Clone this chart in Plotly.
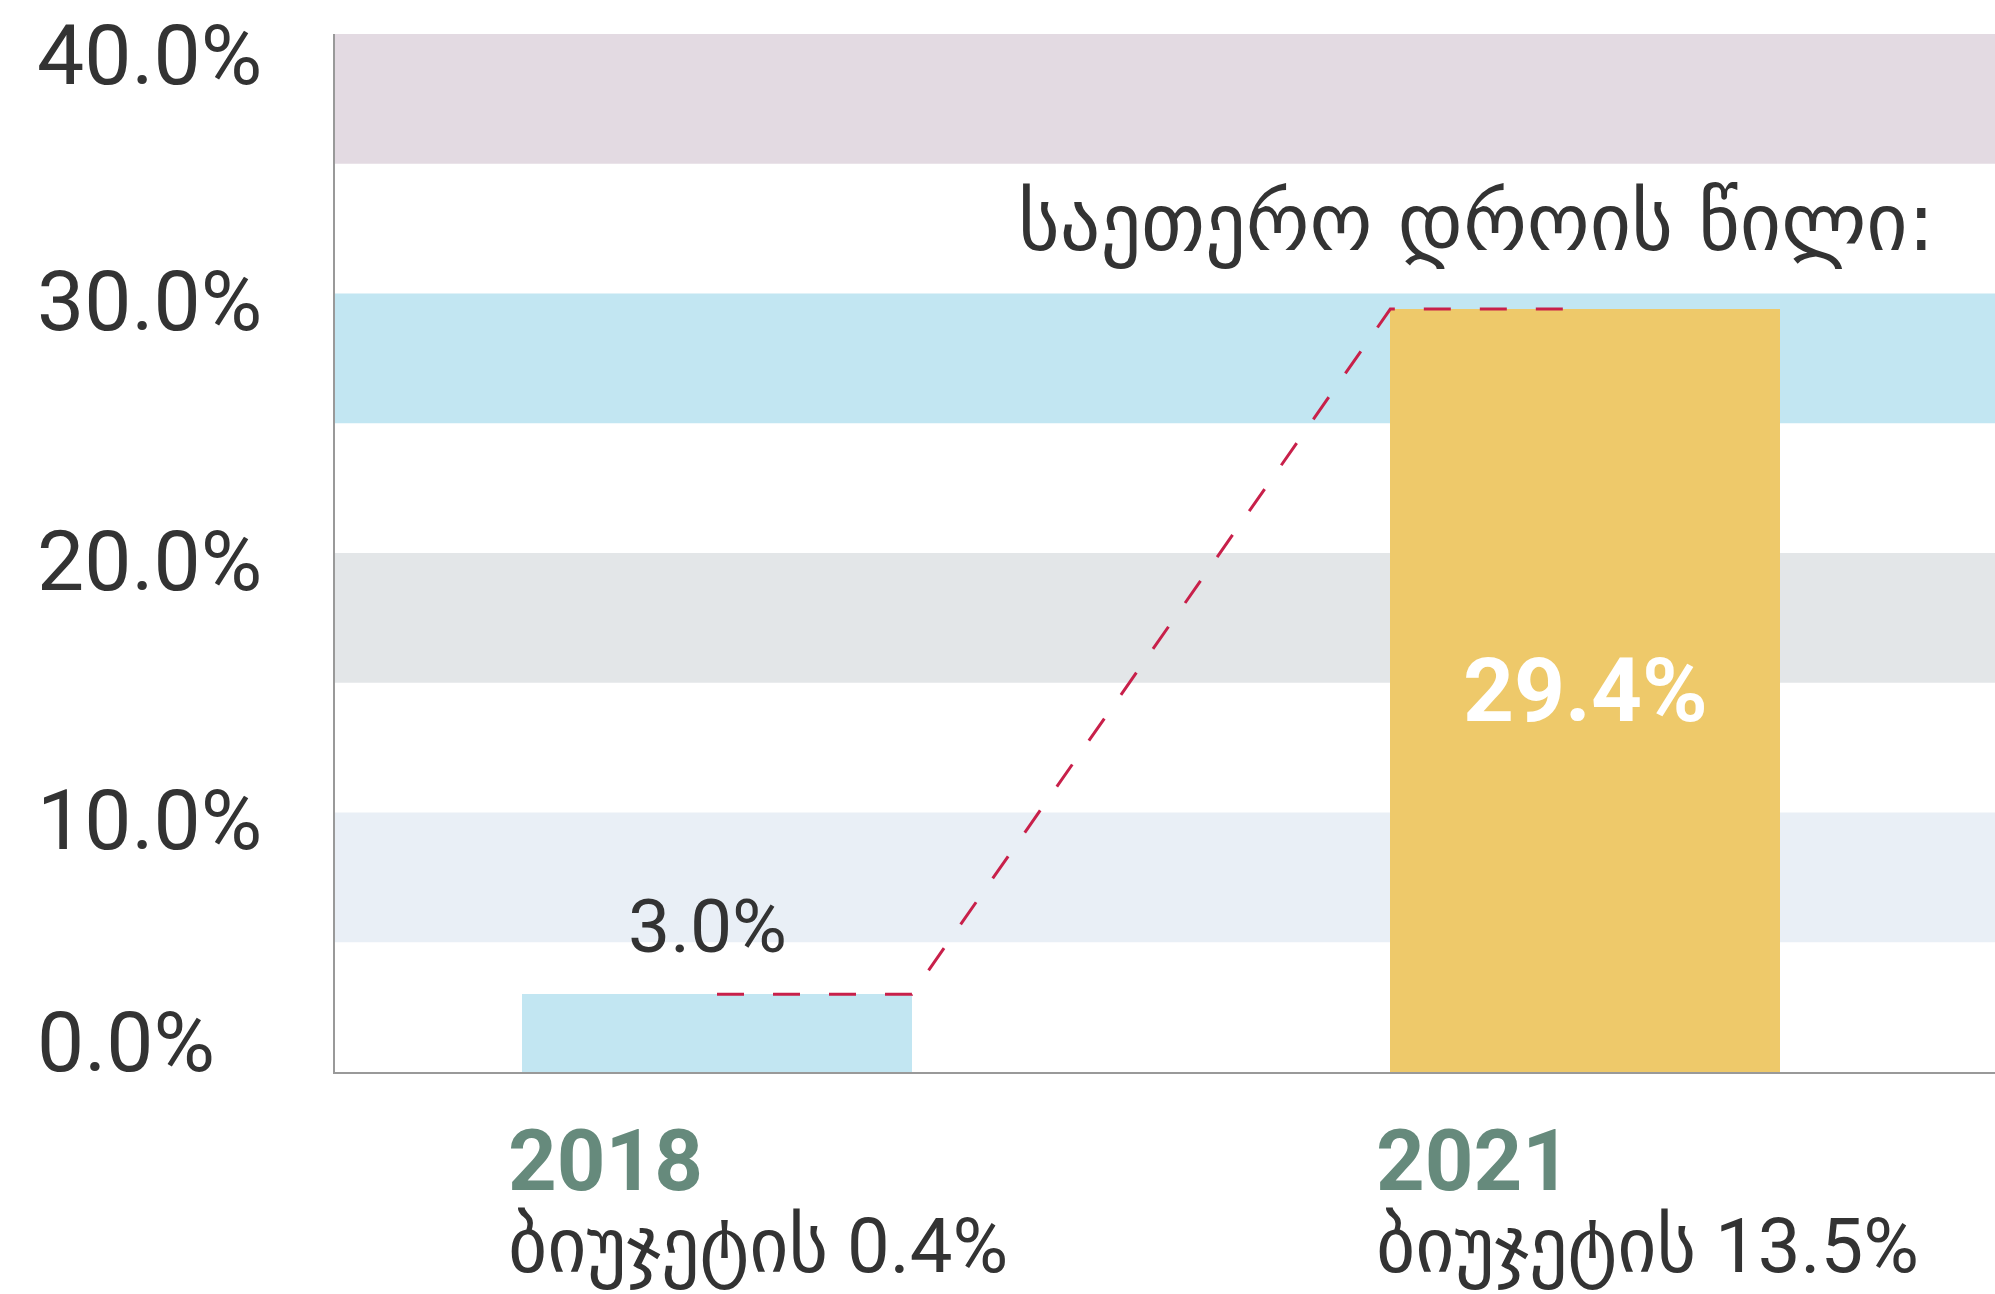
import plotly.graph_objects as go

# ---- data ----
years = ["2018", "2021"]
airtime_share = [3.0, 29.4]          # % of total airtime
budget_share = ["0.4%", "13.5%"]     # % of budget
value_labels = ["3.0%", "29.4%"]
y_ticks = [0, 10, 20, 30, 40]
y_tick_labels = ["0.0%", "10.0%", "20.0%", "30.0%", "40.0%"]
title_text = "საეთერო დროის წილი:"
budget_word = "ბიუჯეტის"

# background bands (from, to, colour)
band_ranges = [(5, 10), (15, 20), (25, 30), (35, 40)]
band_colors = ["#e9eff6", "#e3e6e8", "#c2e6f2", "#e3dae2"]

# ---- styles ----
NUM_FONT = "Roboto, DejaVu Sans, sans-serif"
DARK = "#333333"
bar_colors = ["#c2e6f2", "#eec96a"]
BAR_W = 0.449
xs = list(range(len(years)))

fig = go.Figure()

fig.add_trace(go.Bar(
    x=xs, y=airtime_share, width=BAR_W,
    marker=dict(color=bar_colors, line=dict(width=0)),
    hoverinfo="skip", showlegend=False,
))

# dashed connector
fig.add_trace(go.Scatter(
    x=[xs[0], xs[0] + BAR_W / 2, xs[1] - BAR_W / 2, xs[1]],
    y=[airtime_share[0], airtime_share[0], airtime_share[1], airtime_share[1]],
    mode="lines",
    line=dict(color="#c8204a", width=3, dash="27px,29px"),
    hoverinfo="skip", showlegend=False, cliponaxis=False,
))

shapes = []
for (y0, y1), c in zip(band_ranges, band_colors):
    shapes.append(dict(type="rect", xref="paper", x0=0, x1=1, yref="y", y0=y0, y1=y1,
                       fillcolor=c, line=dict(width=0), layer="below"))

annotations = []
# y tick labels, left aligned
tick_shift = {0: 30, 40: -21}
for v, t in zip(y_ticks, y_tick_labels):
    annotations.append(dict(
        x=0, xref="paper", xanchor="left", xshift=-300,
        y=v, yref="y", yanchor="middle", yshift=tick_shift.get(v, -8),
        text=t, showarrow=False,
        font=dict(family=NUM_FONT, size=84, color=DARK),
    ))

# value labels
annotations.append(dict(
    x=xs[0], y=airtime_share[0], xref="x", yref="y", yanchor="bottom",
    yshift=22, xshift=-10,
    text=value_labels[0], showarrow=False,
    font=dict(family=NUM_FONT, size=75, color=DARK),
))
annotations.append(dict(
    x=xs[1], y=airtime_share[1] / 2, xref="x", yref="y", yanchor="middle",
    text="<b>" + value_labels[1] + "</b>", showarrow=False,
    font=dict(family=NUM_FONT, size=89, color="white"),
))

# title
annotations.append(dict(
    x=0.965, xref="paper", xanchor="right", y=32.75, yref="y", yanchor="middle",
    text=title_text, showarrow=False,
    font=dict(family="DejaVu Sans, sans-serif", size=80, color=DARK),
))

# x labels
for x, yr, b in zip(xs, years, budget_share):
    annotations.append(dict(
        x=x - BAR_W / 2, xref="x", xanchor="left", xshift=-16,
        y=0, yref="paper", yanchor="middle", yshift=-89,
        text="<b>" + yr + "</b>", showarrow=False,
        font=dict(family=NUM_FONT, size=85, color="#668a7c"),
    ))
    annotations.append(dict(
        x=x - BAR_W / 2, xref="x", xanchor="left", xshift=-16,
        y=0, yref="paper", yanchor="middle", yshift=-174,
        text=budget_word + " " + b, showarrow=False,
        font=dict(family=NUM_FONT, size=76, color=DARK),
    ))

fig.update_layout(
    width=1995, height=1294,
    margin=dict(l=335, r=0, t=34, b=222),
    paper_bgcolor="white", plot_bgcolor="white",
    shapes=shapes, annotations=annotations,
    bargap=0,
    xaxis=dict(range=[-0.44, 1.472], showticklabels=False, showgrid=False, zeroline=False,
               showline=True, linecolor="#999999", linewidth=2, ticks=""),
    yaxis=dict(range=[0, 40], tickvals=y_ticks, showticklabels=False, showgrid=False,
               zeroline=False, showline=True, linecolor="#999999", linewidth=2, ticks=""),
)

fig.write_html("out.html")
